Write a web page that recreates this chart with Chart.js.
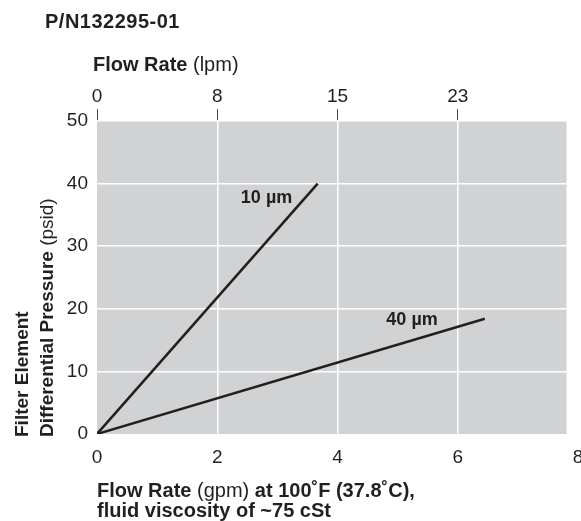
<!DOCTYPE html>
<html>
<head>
<meta charset="utf-8">
<script src="https://cdn.jsdelivr.net/npm/chart.js@4.4.1/dist/chart.umd.min.js"></script>
<style>
  html, body { margin: 0; padding: 0; background: #fff; overflow: hidden; width: 581px; height: 521px; }
  #wrap { position: absolute; left: 0; top: 0; width: 600px; height: 521px; }
</style>
</head>
<body>
<div id="wrap"><canvas id="c"></canvas></div>
<script>
// ---- data ----
const GPM_TICKS = [0, 2, 4, 6, 8];          // bottom axis (gpm)
const LPM_LABELS = ['0', '8', '15', '23'];  // top axis labels (lpm) at gpm 0,2,4,6
const PSID_TICKS = [0, 10, 20, 30, 40, 50];
const SERIES_NAMES = ['10 µm', '40 µm'];
const FLOW_10UM = [0, 3.67];   // gpm
const DP_10UM   = [0, 40];     // psid
const FLOW_40UM = [0, 6.45];
const DP_40UM   = [0, 18.4];
const LABEL_POS_10UM = [2.82, 37.7];
const LABEL_POS_40UM = [5.24, 18.2];

const FONT = '"Liberation Sans", Arial, sans-serif';
const INK = '#231f20';
const GRAY_BG = '#d1d2d4';
const BG_XMAX = 7.81;

function pts(xs, ys) { return xs.map((x, i) => ({ x: x, y: ys[i] })); }

function drawRuns(ctx, runs, x, y, size, spacing) {
  ctx.letterSpacing = (spacing || 0) + 'px';
  runs.forEach(r => {
    ctx.font = (r[1] ? 'bold ' : '') + size + 'px ' + FONT;
    ctx.fillText(r[0], x, y);
    x += ctx.measureText(r[0]).width;
  });
  ctx.letterSpacing = '0px';
}

const bgPlugin = {
  id: 'bg',
  beforeDraw(chart) {
    const { ctx, chartArea, scales } = chart;
    const xr = scales.x.getPixelForValue(BG_XMAX);
    ctx.save();
    ctx.fillStyle = GRAY_BG;
    ctx.fillRect(chartArea.left, chartArea.top, xr - chartArea.left, chartArea.bottom - chartArea.top);
    ctx.restore();
  }
};

const textPlugin = {
  id: 'texts',
  afterDraw(chart) {
    const { ctx, scales } = chart;
    ctx.save();
    ctx.fillStyle = INK;
    ctx.textBaseline = 'alphabetic';
    ctx.textAlign = 'left';
    // title
    drawRuns(ctx, [['P/N132295-01', true]], 45, 28, 20, 0.5);
    // top axis title
    drawRuns(ctx, [['Flow Rate ', true], ['(lpm)', false]], 93, 71, 20);
    // bottom axis title
    drawRuns(ctx, [['Flow Rate ', true], ['(gpm)', false], [' at 100˚F (37.8˚C),', true]], 97, 497, 20);
    drawRuns(ctx, [['fluid viscosity of ~75 cSt', true]], 97, 517, 20);
    // y axis title (rotated)
    ctx.save();
    ctx.translate(28, 437);
    ctx.rotate(-Math.PI / 2);
    drawRuns(ctx, [['Filter Element', true]], 0, 0, 19);
    ctx.restore();
    ctx.save();
    ctx.translate(53, 437);
    ctx.rotate(-Math.PI / 2);
    drawRuns(ctx, [['Differential Pressure ', true], ['(psid)', false]], 0, 0, 19);
    ctx.restore();
    // series labels
    ctx.textAlign = 'center';
    ctx.textBaseline = 'middle';
    ctx.font = 'bold 18px ' + FONT;
    [[SERIES_NAMES[0], LABEL_POS_10UM], [SERIES_NAMES[1], LABEL_POS_40UM]].forEach(([t, p]) => {
      ctx.fillText(t, scales.x.getPixelForValue(p[0]), scales.y.getPixelForValue(p[1]));
    });
    ctx.restore();
  }
};

new Chart(document.getElementById('c'), {
  type: 'line',
  data: {
    datasets: [
      { label: SERIES_NAMES[0], data: pts(FLOW_10UM, DP_10UM), borderColor: INK, borderWidth: 2.5, pointRadius: 0, xAxisID: 'x', yAxisID: 'y' },
      { label: SERIES_NAMES[1], data: pts(FLOW_40UM, DP_40UM), borderColor: INK, borderWidth: 2.5, pointRadius: 0, xAxisID: 'x', yAxisID: 'y' }
    ]
  },
  options: {
    responsive: true,
    maintainAspectRatio: false,
    animation: false,
    layout: { padding: { left: 0, right: 22, top: 0, bottom: 0 } },
    plugins: { legend: { display: false }, tooltip: { enabled: false }, title: { display: false } },
    scales: {
      x: {
        type: 'linear', position: 'bottom', min: 0, max: 8,
        afterBuildTicks: s => { s.ticks = GPM_TICKS.map(v => ({ value: v })); },
        afterFit: s => { s.height = 87; },
        ticks: { color: INK, font: { family: FONT, size: 19 }, padding: 12, maxRotation: 0, autoSkip: false },
        grid: {
          drawTicks: false, lineWidth: 1.5,
          color: c => (c.tick && (c.tick.value === 0 || c.tick.value === 8)) ? 'rgba(0,0,0,0)' : '#ffffff'
        },
        border: { display: false }
      },
      x2: {
        type: 'linear', position: 'top', min: 0, max: 8,
        afterBuildTicks: s => { s.ticks = GPM_TICKS.slice(0, LPM_LABELS.length).map(v => ({ value: v })); },
        afterFit: s => { s.height = 121; },
        ticks: { color: INK, font: { family: FONT, size: 19 }, padding: 1, maxRotation: 0, autoSkip: false,
                 callback: (v, i) => LPM_LABELS[i] },
        grid: { drawOnChartArea: false, drawTicks: true, tickLength: 12, color: '#444', lineWidth: 1 },
        border: { display: false }
      },
      y: {
        type: 'linear', min: 0, max: 50,
        afterBuildTicks: s => { s.ticks = PSID_TICKS.map(v => ({ value: v })); },
        afterFit: s => { s.width = 97; },
        ticks: { color: INK, font: { family: FONT, size: 19 }, padding: 9 },
        grid: { drawTicks: false, lineWidth: 1.5,
                color: c => (c.tick && c.tick.value === 0) ? 'rgba(0,0,0,0)' : '#ffffff' },
        border: { display: false }
      }
    }
  },
  plugins: [bgPlugin, textPlugin]
});
</script>
</body>
</html>
